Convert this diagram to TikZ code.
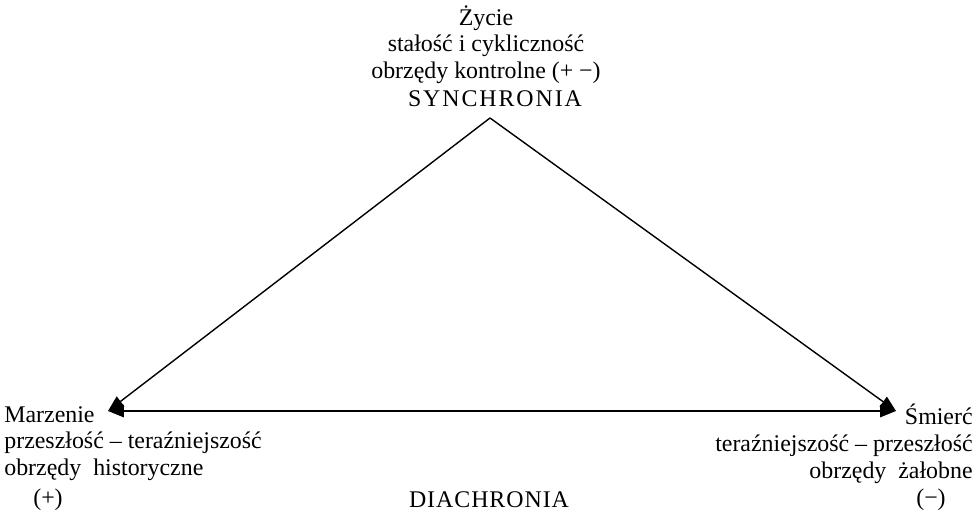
\documentclass[tikz,border=0pt]{standalone}
\usepackage{fontspec}
\setmainfont{Liberation Serif}
\usetikzlibrary{arrows.meta,positioning}
\tikzset{
  txt/.style={inner sep=0pt,font=\fontsize{13.6}{15.2}\selectfont},
  caps/.style={txt,font=\fontsize{13.6}{15.2}\selectfont\addfontfeatures{LetterSpace=#1}},
  arr/.style={-{Triangle[length=9pt,width=7pt]},line width=0.8pt},
  base_line/.style={{Triangle[length=9pt,width=7pt]}-{Triangle[length=9pt,width=7pt]},line width=1.1pt},
}
\begin{document}
\begin{tikzpicture}[x=0.02cm,y=-0.02cm]
  \useasboundingbox (0,0) rectangle (978,516);
  \coordinate (top) at (490,118);
  \coordinate (lft) at (108,411);
  \coordinate (rgt) at (896,411);
  \node[txt,anchor=north,align=center] (zycie) at (486,5)
    {Życie\\stałość i cykliczność\\obrzędy kontrolne (+ −)};
  \node[caps=8,anchor=north] (synch) at (495,90) {SYNCHRONIA};
  \node[txt,anchor=north west,align=left] (marz) at (4,406)
    {Marzenie\\przeszłość – teraźniejszość\\obrzędy\ \ historyczne};
  \node[txt] (plus) at (48,500) {(+)};
  \node[txt,anchor=north east,align=right] (smierc) at (973,404)
    {Śmierć\\teraźniejszość – przeszłość\\obrzędy\ \ żałobne};
  \node[txt] (minus) at (931,500) {(−)};
  \node[caps=4] (diach) at (489,500) {DIACHRONIA};
  \draw[arr] (top) -- (lft); \draw[arr] (top) -- (rgt);
  \draw[base_line] (lft) -- (rgt);
\end{tikzpicture}
\end{document}
